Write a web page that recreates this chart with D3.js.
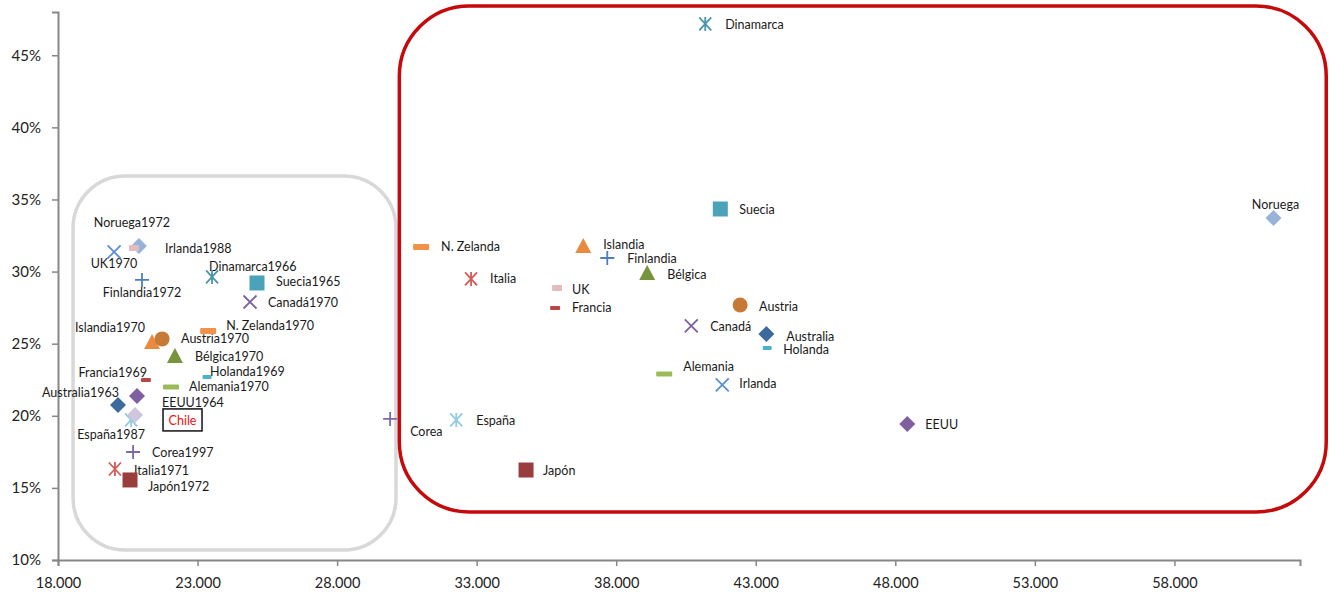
<!DOCTYPE html>
<html>
<head>
<meta charset="utf-8">
<script src="https://cdn.jsdelivr.net/npm/d3@7"></script>
<style>
  html, body { margin: 0; padding: 0; background: #fff; }
  svg { display: block; }
  text { font-family: Lato, "Open Sans", sans-serif; }
</style>
</head>
<body>
<svg id="chart" width="1330" height="592"></svg>
<script>
// Countries: GDP per capita (x) and tax burden (y), today and at the year
// each one had an income level comparable to Chile's.
const countries = ["Dinamarca","Suecia","Noruega","N. Zelanda","Islandia","Finlandia","Bélgica","Italia","UK","Francia","Austria","Canadá","Australia","Holanda","Alemania","Irlanda","EEUU","España","Corea","Japón"];
const currentGdp  = [41190, 41730, 61550, 31010, 36820, 37680, 39110, 32800, 35880, 35810, 42440, 40690, 43380, 43410, 39720, 41800, 48430, 32270, 29900, 34770];
const currentTax  = [0.4717, 0.3434, 0.3372, 0.3171, 0.3178, 0.3094, 0.2990, 0.2949, 0.2886, 0.2748, 0.2768, 0.2623, 0.2567, 0.2470, 0.2290, 0.2214, 0.1943, 0.1971, 0.1978, 0.1624];
const pastYear    = [1966, 1965, 1972, 1970, 1970, 1972, 1970, 1971, 1970, 1969, 1970, 1970, 1963, 1969, 1970, 1988, 1964, 1987, 1997, 1972];
const pastGdp     = [23520, 25130, 20900, 23380, 21370, 21010, 22190, 20040, 20720, 21150, 21730, 24880, 20150, 23340, 22050, 20010, 20830, 20620, 20690, 20580];
const pastTax     = [0.2963, 0.2921, 0.3178, 0.2588, 0.2512, 0.2942, 0.2415, 0.1631, 0.3164, 0.2248, 0.2533, 0.2789, 0.2075, 0.2269, 0.2200, 0.3136, 0.2137, 0.1971, 0.1749, 0.1555];
const chileGdp = 20760;
const chileTax = 0.2006;

const xTicks = [18000, 23000, 28000, 33000, 38000, 43000, 48000, 53000, 58000];
const yTicks = [0.10, 0.15, 0.20, 0.25, 0.30, 0.35, 0.40, 0.45];

// Marker look for each country
const markerStyle = {
  "Dinamarca":  {shape: "asterisk", color: "#4a97ad"},
  "Suecia":     {shape: "square",   color: "#4aa3b8"},
  "Noruega":    {shape: "diamond",  color: "#97b3d9"},
  "N. Zelanda": {shape: "dash",     color: "#f0924a", w: 16, h: 6},
  "Islandia":   {shape: "triangle", color: "#e98a3e"},
  "Finlandia":  {shape: "plus",     color: "#4f7fba"},
  "Bélgica":    {shape: "triangle", color: "#77933c"},
  "Italia":     {shape: "asterisk", color: "#d65a56"},
  "UK":         {shape: "dash",     color: "#e3bcc0", w: 10, h: 6},
  "Francia":    {shape: "dash",     color: "#b84848", w: 10, h: 4},
  "Austria":    {shape: "circle",   color: "#c77a35"},
  "Canadá":     {shape: "cross",    color: "#7e62a0"},
  "Australia":  {shape: "diamond",  color: "#3d6a9c"},
  "Holanda":    {shape: "dash",     color: "#4fb0cb", w: 9, h: 4},
  "Alemania":   {shape: "dash",     color: "#9bbb59", w: 16, h: 5},
  "Irlanda":    {shape: "cross",    color: "#5a8fd3"},
  "EEUU":       {shape: "diamond",  color: "#7f5fa0"},
  "España":     {shape: "asterisk", color: "#93cbe0"},
  "Corea":      {shape: "plus",     color: "#8068a6"},
  "Japón":      {shape: "square",   color: "#9a3e3d"},
  "Chile":      {shape: "diamond",  color: "#cfc6dd"}
};

// Label placement relative to each marker: [dx, dy, anchor]
const currentLabelPos = {
  "Dinamarca": [20, 1, "start"], "Suecia": [19, 1, "start"], "Noruega": [2, -13, "middle"],
  "N. Zelanda": [20, 0, "start"], "Islandia": [20, -1, "start"], "Finlandia": [20, 0, "start"],
  "Bélgica": [20, 1, "start"], "Italia": [19, 0, "start"], "UK": [15, 1, "start"],
  "Francia": [17, 0, "start"], "Austria": [19, 1, "start"], "Canadá": [19, 1, "start"],
  "Australia": [20, 2, "start"], "Holanda": [16, 1, "start"], "Alemania": [19, -7, "start"],
  "Irlanda": [17, -1, "start"], "EEUU": [18, 0, "start"], "España": [20, 1, "start"],
  "Corea": [20, 13, "start"], "Japón": [17, 0, "start"]
};
const pastLabelPos = {
  "Dinamarca": [-3, -10, "start"], "Suecia": [19, -1, "start"], "Noruega": [-7, -23, "middle"],
  "N. Zelanda": [18, -5, "start"], "Islandia": [-7, -14, "end"], "Finlandia": [0, 13, "middle"],
  "Bélgica": [20, 1, "start"], "Italia": [19, 1, "start"], "UK": [-20, 16, "middle"],
  "Francia": [1, -8, "end"], "Austria": [19, 0, "start"], "Canadá": [18, 0, "start"],
  "Australia": [1, -12, "end"], "Holanda": [3, -5, "start"], "Alemania": [18, 0, "start"],
  "Irlanda": [51, -3, "start"], "EEUU": [25, 6, "start"], "España": [-20, 15, "middle"],
  "Corea": [19, 1, "start"], "Japón": [18, 7, "start"]
};

const svg = d3.select("#chart");
const x = d3.scaleLinear().domain([18000, 62500]).range([58, 1300]);
const y = d3.scaleLinear().domain([0.10, 0.48]).range([560, 12]);

const es = d3.formatLocale({decimal: ",", thousands: ".", grouping: [3], currency: ["", ""]});
const fmtX = es.format(",.0f");
const fmtY = d3.format(".0%");

// Highlight boxes: the group near Chile's income and the group today
function roundBox(x0, x1, y0, y1, r, color, w) {
  svg.append("rect")
    .attr("x", x(x0)).attr("y", y(y1))
    .attr("width", x(x1) - x(x0)).attr("height", y(y0) - y(y1))
    .attr("rx", r).attr("ry", r)
    .attr("fill", "none").attr("stroke", color).attr("stroke-width", w);
}
roundBox(18540, 30110, 0.1069, 0.3663, 52, "#d8d8d8", 3.5);
roundBox(30230, 63440, 0.1333, 0.4842, 70, "#c40a0a", 3.5);

// Axes
const axisColor = "#878787";
const gx = svg.append("g").attr("transform", `translate(0,${y(0.10)})`)
  .call(d3.axisBottom(x).tickValues(xTicks).tickFormat(fmtX).tickSizeOuter(0).tickSize(6).tickPadding(12));
gx.select(".domain").attr("stroke", axisColor).attr("stroke-width", 2);
gx.selectAll(".tick line").attr("stroke", axisColor).attr("stroke-width", 1.5);
gx.selectAll(".tick text").attr("font-size", 14.5).attr("fill", "#222").style("font-family", "Lato, sans-serif");

const gy = svg.append("g").attr("transform", `translate(${x(18000)},0)`)
  .call(d3.axisLeft(y).tickValues(yTicks).tickFormat(fmtY).tickSizeOuter(0).tickSize(6).tickPadding(11));
gy.select(".domain").attr("stroke", axisColor).attr("stroke-width", 2);
gy.selectAll(".tick line").attr("stroke", axisColor).attr("stroke-width", 1.5);
gy.selectAll(".tick text").attr("font-size", 15).attr("fill", "#222").style("font-family", "Lato, sans-serif");

// Marker drawing
function drawMarker(g, st) {
  const c = st.color;
  switch (st.shape) {
    case "square":
      g.append("rect").attr("x", -7.5).attr("y", -7.5).attr("width", 15).attr("height", 15).attr("fill", c);
      break;
    case "diamond":
      g.append("path").attr("d", "M0,-8L8,0L0,8L-8,0Z").attr("fill", c);
      break;
    case "circle":
      g.append("circle").attr("r", 7.5).attr("fill", c);
      break;
    case "triangle":
      g.append("path").attr("d", "M0,-8L8,7L-8,7Z").attr("fill", c);
      break;
    case "dash":
      g.append("rect").attr("x", -st.w / 2).attr("y", -st.h / 2).attr("width", st.w).attr("height", st.h)
        .attr("rx", 1).attr("fill", c);
      break;
    case "cross":
      g.append("path").attr("d", "M-6.5,-6.5L6.5,6.5M-6.5,6.5L6.5,-6.5")
        .attr("stroke", c).attr("stroke-width", 1.8).attr("fill", "none");
      break;
    case "plus":
      g.append("path").attr("d", "M-7,0L7,0M0,-7L0,7")
        .attr("stroke", c).attr("stroke-width", 1.8).attr("fill", "none");
      break;
    case "asterisk":
      g.append("path").attr("d", "M-6,-6.5L6,6.5M-6,6.5L6,-6.5M0,-7L0,7")
        .attr("stroke", c).attr("stroke-width", 1.8).attr("fill", "none");
      break;
  }
}

const points = [];
countries.forEach((name, i) => {
  points.push({name, label: name, gx: currentGdp[i], tax: currentTax[i], pos: currentLabelPos[name]});
  points.push({name, label: name + pastYear[i], gx: pastGdp[i], tax: pastTax[i], pos: pastLabelPos[name]});
});

const labelLayer = svg.append("g");
const markerLayer = svg.append("g");

points.forEach(p => {
  const px = x(p.gx), py = y(p.tax);
  const g = markerLayer.append("g").attr("transform", `translate(${px},${py})`);
  drawMarker(g, markerStyle[p.name]);
  labelLayer.append("text")
    .attr("x", px + p.pos[0]).attr("y", py + p.pos[1])
    .attr("text-anchor", p.pos[2]).attr("dominant-baseline", "central")
    .attr("font-size", 12.5).attr("fill", "#1a1a1a")
    .text(p.label);
});

// Chile
const cx = x(chileGdp), cy = y(chileTax);
drawMarker(markerLayer.append("g").attr("transform", `translate(${cx},${cy})`), markerStyle["Chile"]);
svg.append("rect").attr("x", cx + 28).attr("y", cy - 6).attr("width", 39).attr("height", 22)
  .attr("fill", "#fff").attr("stroke", "#111").attr("stroke-width", 1.5);
svg.append("text").attr("x", cx + 47.5).attr("y", cy + 5.5)
  .attr("text-anchor", "middle").attr("dominant-baseline", "central")
  .attr("font-size", 12.5).attr("fill", "#ee1111").text("Chile");
</script>
</body>
</html>
